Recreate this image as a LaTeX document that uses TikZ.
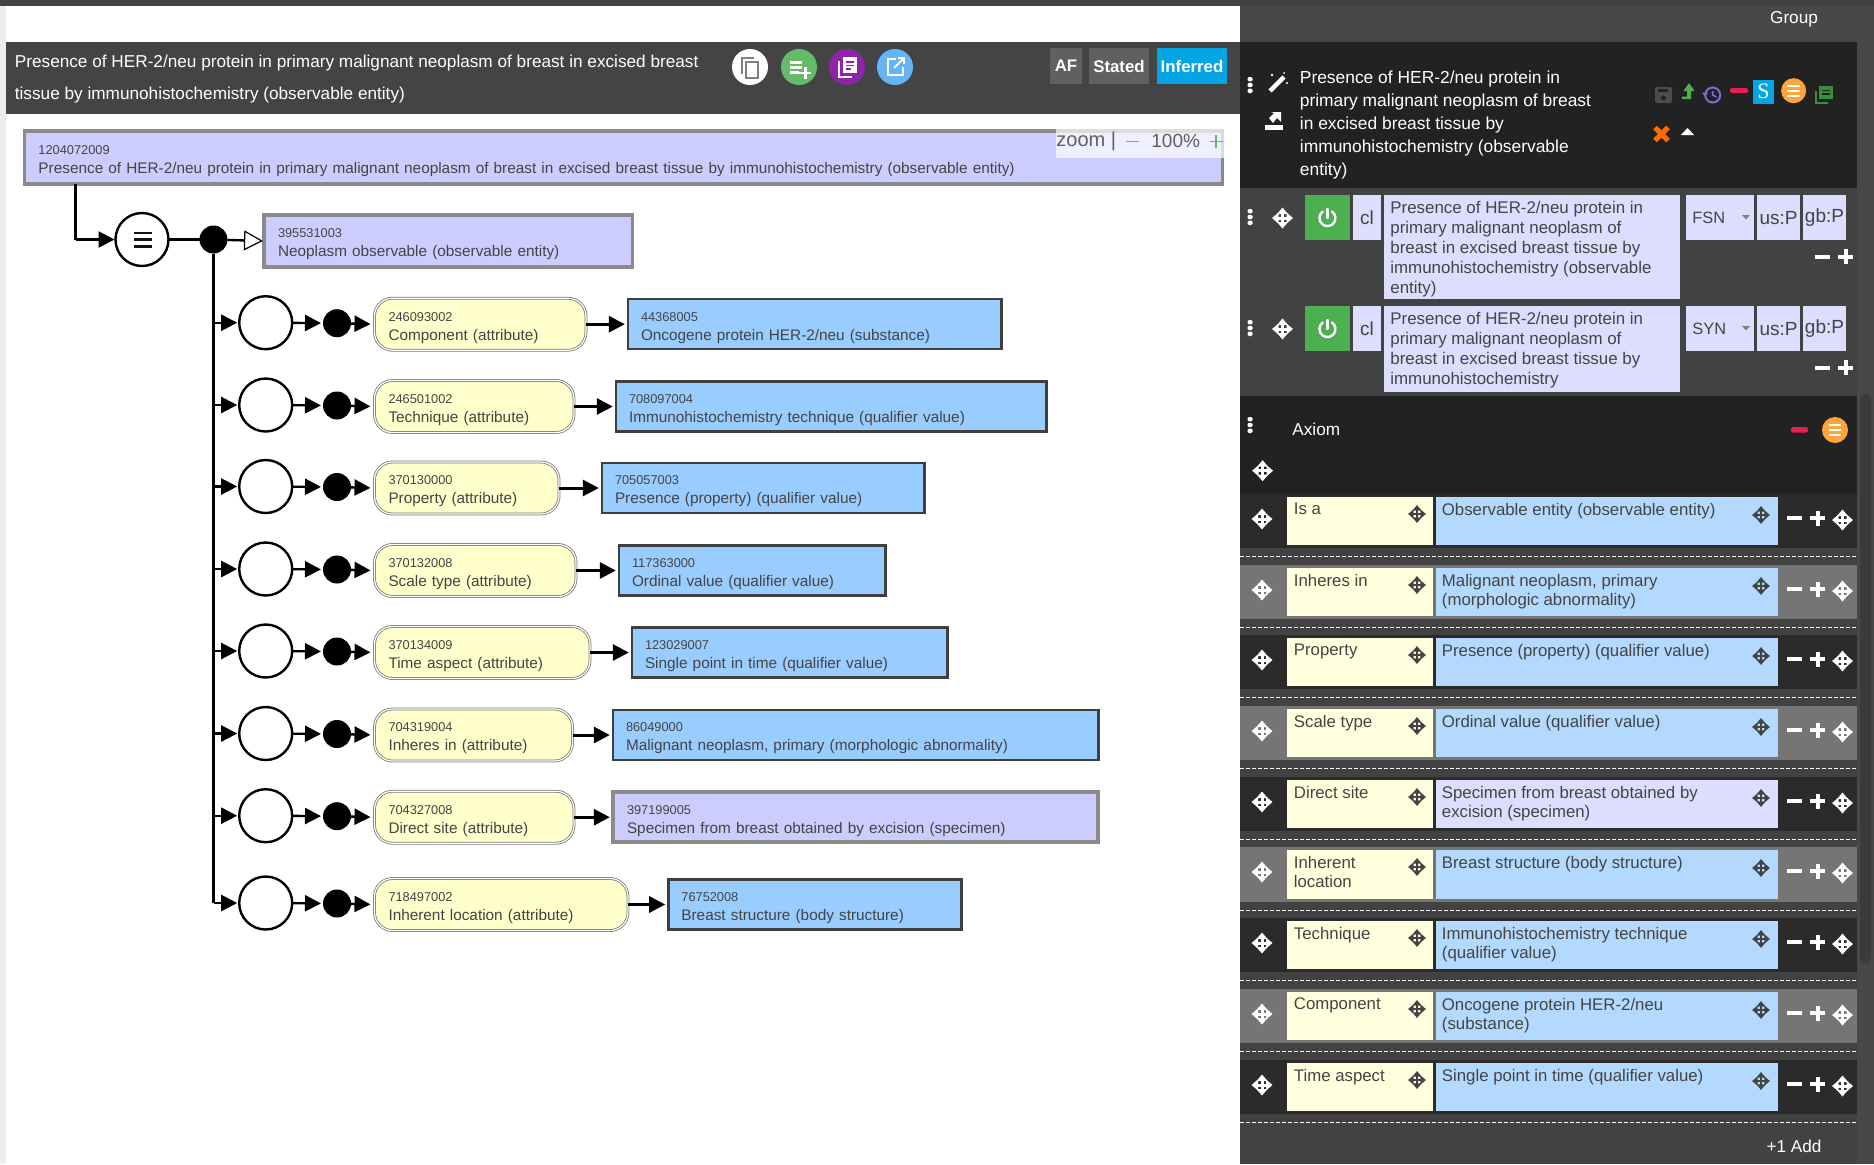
\documentclass[tikz,border=0pt]{standalone}
\usepackage{fontspec}
\setmainfont{Liberation Sans}
\newfontfamily\serifmark{Liberation Serif}
\usepackage{xcolor}
\usetikzlibrary{arrows.meta}

\definecolor{barbg}{HTML}{444444}
\definecolor{panelbg}{HTML}{424242}
\definecolor{darkbg}{HTML}{222222}
\definecolor{bandodd}{HTML}{2B2B2B}
\definecolor{bandeven}{HTML}{757575}
\definecolor{boxgray}{HTML}{8A8A8A}
\definecolor{boxdark}{HTML}{3F3F3F}
\definecolor{primfill}{HTML}{CCCCFF}
\definecolor{defnfill}{HTML}{99CCFF}
\definecolor{attrfill}{HTML}{FFFFCC}
\definecolor{inktext}{HTML}{444444}
\definecolor{lilac}{HTML}{DDDDFF}
\definecolor{sky}{HTML}{B3D9FF}
\definecolor{cream}{HTML}{FFFFDD}
\definecolor{okgreen}{HTML}{4CAF50}
\definecolor{sblue}{HTML}{03A5E4}
\definecolor{redbar}{HTML}{E91E50}
\definecolor{amber}{HTML}{FFA33A}
\definecolor{btngreen}{HTML}{66BB6A}
\definecolor{btnpurple}{HTML}{8E24AA}
\definecolor{btnblue}{HTML}{64B5F6}
\definecolor{histpurple}{HTML}{7E6BD0}
\definecolor{docgreen}{HTML}{388E3C}

\newcommand{\idline}[1]{{\fontsize{6.4}{9.5}\selectfont\rule{0pt}{8pt}#1}}

\tikzset{
	conline/.style={black,line width=1.2pt},
	conarrow/.style={conline,-{Triangle[length=8pt,width=8pt]}},
	boxbase/.style={anchor=west,align=left,inner xsep=6.5pt,inner ysep=0pt,outer sep=0pt,
		text=inktext,font=\fontsize{7.67}{9.5}\selectfont},
	primbox/.style={boxbase,draw=boxgray,line width=1.8pt,fill=primfill,inner xsep=7pt},
	defnbox/.style={boxbase,draw=boxdark,line width=1.25pt,fill=defnfill},
	attrpill/.style={boxbase,draw=boxdark!70,line width=.4pt,double=white,double distance=.6pt,
		fill=attrfill,rounded corners=9pt,inner xsep=7pt},
	ring/.style={circle,draw=black,line width=1.2pt,fill=white,minimum size=26.5pt,inner sep=0pt,outer sep=0pt},
	blackdot/.style={circle,fill=black,minimum size=14pt,inner sep=0pt,outer sep=0pt},
	paneltext/.style={anchor=north west,align=left,inner sep=0pt,text=white,font=\fontsize{8.7}{11.5}\selectfont},
	desctext/.style={anchor=north west,align=left,inner sep=0pt,text=inktext,font=\fontsize{8.45}{10}\selectfont},
	axiomtext/.style={anchor=north west,align=left,inner sep=0pt,text=inktext,font=\fontsize{8.4}{9.8}\selectfont},
	pics/moveicon/.style={code={
		\fill[#1] (0,-10.5) -- (5.5,-4) -- (-5.5,-4) -- cycle;
		\fill[#1] (0,10.5) -- (5.5,4) -- (-5.5,4) -- cycle;
		\fill[#1] (-10.5,0) -- (-4,5.5) -- (-4,-5.5) -- cycle;
		\fill[#1] (10.5,0) -- (4,5.5) -- (4,-5.5) -- cycle;
		\fill[#1] (-1.5,-5) rectangle (1.5,5);
		\fill[#1] (-5,-1.5) rectangle (5,1.5);
	}},
	pics/kebab/.style={code={
		\fill[white,rounded corners=.7pt] (-2.5,-8) rectangle (2.5,-3.6);
		\fill[white,rounded corners=.7pt] (-2.5,-2.2) rectangle (2.5,2.2);
		\fill[white,rounded corners=.7pt] (-2.5,3.6) rectangle (2.5,8);
	}},
	pics/minusplus/.style={code={
		\fill[white] (-7.5,-2) rectangle (7.5,2);
		\fill[white] (15.5,-2) rectangle (30.5,2);
		\fill[white] (21,-7.5) rectangle (25,7.5);
	}},
	pics/powericon/.style={code={
		\draw[white,line width=1.2pt,line cap=round] (4.5,-6.5) arc[start angle=-55,end angle=235,radius=8];
		\draw[white,line width=1.2pt,line cap=round] (0,-9) -- (0,0);
	}},
}

\begin{document}
\begin{tikzpicture}[x=0.5pt,y=-0.5pt]
	\useasboundingbox (0,0) rectangle (1874,1164);
	\fill[white] (0,0) rectangle (1874,1164);
	\fill[gray!15] (0,0) rectangle (6,1164);
	\fill[barbg] (0,0) rectangle (1240,6);
	
	% title bar
	\fill[barbg] (6,42) rectangle (1240,114);
	\node[anchor=north west,align=left,inner sep=0pt,text=white,font=\fontsize{8.6}{16}\selectfont] (title) at (14.5,55) {Presence of HER-2/neu protein in primary malignant neoplasm of breast in excised breast\\tissue by immunohistochemistry (observable entity)};
	
	\fill[white] (750,67) circle (18);
	\draw[gray,line width=.8pt] (742,74) -- (742,58) -- (754,58);
	\draw[gray,line width=.9pt,fill=white] (746,62) rectangle (758,78);
	\fill[btngreen] (799,67) circle (18);
	\fill[white] (790,61) rectangle (802,63.5);
	\fill[white] (790,66) rectangle (802,68.5);
	\fill[white] (790,71) rectangle (799,73.5);
	\fill[white] (804,67) rectangle (806.5,79);
	\fill[white] (799,71.5) rectangle (811,74);
	\fill[btnpurple] (847,67) circle (18);
	\draw[white,line width=.8pt] (839,61) -- (839,77) -- (852,77);
	\fill[white] (843,57) rectangle (857,73);
	\fill[btnpurple] (846,61) rectangle (854,62.5);
	\fill[btnpurple] (846,64.5) rectangle (854,66);
	\fill[btnpurple] (846,68) rectangle (851,69.5);
	\fill[btnblue] (895,67) circle (18);
	\draw[white,line width=.9pt] (896,59) -- (888,59) -- (888,75) -- (903,75) -- (903,67);
	\draw[white,line width=.9pt] (894,68) -- (904,58);
	\draw[white,line width=.9pt] (898,58) -- (904,58) -- (904,64);
	
	\fill[gray!75!black] (1050,48) rectangle (1082,84);
	\node[text=white,font=\fontsize{8.4}{10}\selectfont\bfseries] (afbtn) at (1066,66) {AF};
	\fill[gray!75!black] (1089,48) rectangle (1149,84);
	\node[text=white,font=\fontsize{8.4}{10}\selectfont\bfseries] (statedbtn) at (1119,66) {Stated};
	\fill[sblue] (1157,48) rectangle (1227,84);
	\node[text=white,font=\fontsize{8.4}{10}\selectfont\bfseries] (inferredbtn) at (1192,66) {Inferred};
	
	% diagram
	\node[primbox,text width=585pt,minimum height=26.5pt] (topbox) at (24.5,157.5) {\idline{1204072009}\\Presence of HER-2/neu protein in primary malignant neoplasm of breast in excised breast tissue by immunohistochemistry (observable entity)};
	\fill[white,opacity=.7] (1056,129) rectangle (1224,158);
	\node[anchor=west,inner sep=0pt,text=inktext!85!white,font=\fontsize{10}{12}\selectfont] (zoomlabel) at (1056,141.5) {zoom |};
	\fill[btngreen] (1126,140.5) rectangle (1139,142);
	\node[anchor=west,inner sep=0pt,text=inktext!85!white,font=\fontsize{9.5}{12}\selectfont] (zoomvalue) at (1151,140.5) {100\%};
	\fill[btngreen] (1209.5,140.5) rectangle (1222.5,142);
	\fill[btngreen] (1215.3,134.5) rectangle (1216.8,148);
	
	\coordinate (corner) at (75.5,239.5);
	\node[ring] (eqring) at (142,239.5) {};
	\fill[inktext!30!black] (133.5,231.5) rectangle (152,234);
	\fill[inktext!30!black] (133.5,238.3) rectangle (152,240.8);
	\fill[inktext!30!black] (133.5,245) rectangle (152,247.5);
	\node[blackdot] (eqdot) at (213.5,239.5) {};
	\node[primbox,text width=170.3pt,minimum height=26pt] (isabox) at (264,241) {\idline{395531003}\\Neoplasm observable (observable entity)};
	
	\draw[conline] (corner |- topbox.south) -- (corner);
	\draw[conarrow,shorten >=.5pt] (corner) -- (eqring);
	\draw[conline] (eqring) -- (eqdot);
	\draw[conline,-{Triangle[open,length=9.5pt,width=10pt,line width=.6pt]},shorten >=.5pt] (eqdot) -- (isabox.west);
	
	\foreach \rowy/\pillend/\boxstart/\boxend/\attrid/\attrname/\valid/\valname/\valstyle [count=\n] in {
		322.7/586/627/1003/246093002/Component (attribute)/44368005/{Oncogene protein HER-2/neu (substance)}/defnbox,
		405/574/615/1048/246501002/Technique (attribute)/708097004/Immunohistochemistry technique (qualifier value)/defnbox,
		486.5/559/601/926/370130000/Property (attribute)/705057003/Presence (property) (qualifier value)/defnbox,
		569/576/618/887/370132008/Scale type (attribute)/117363000/Ordinal value (qualifier value)/defnbox,
		651/590/631/949/370134009/Time aspect (attribute)/123029007/Single point in time (qualifier value)/defnbox,
		733.5/572.5/612/1100/704319004/Inheres in (attribute)/86049000/{Malignant neoplasm, primary (morphologic abnormality)}/defnbox,
		815.7/574/612/1097.6/704327008/Direct site (attribute)/397199005/Specimen from breast obtained by excision (specimen)/primbox,
		903/628/667.4/963/718497002/Inherent location (attribute)/76752008/Breast structure (body structure)/defnbox}
	{
		\pgfmathsetmacro{\pillw}{(\pillend-374.5)/2-14}
		\pgfmathsetmacro{\boxw}{(\boxend-\boxstart)/2-14.2}
		\coordinate (stem\n) at (213.5,\rowy);
		\node[ring] (ring\n) at (265.7,\rowy) {};
		\node[blackdot] (dot\n) at (337,\rowy+.5) {};
		\node[attrpill,text width=\pillw pt,minimum height=26pt] (attr\n) at (374.5,\rowy+1.5) {\idline{\attrid}\\\attrname};
		\node[\valstyle,text width=\boxw pt,minimum height=25pt] (val\n) at (\boxstart+1,\rowy+1.5) {\idline{\valid}\\\valname};
		\draw[conarrow,shorten >=1pt] (stem\n) -- (ring\n);
		\draw[conarrow,shorten >=1pt] (ring\n) -- (dot\n);
		\draw[conarrow,shorten >=2pt] (dot\n) -- (attr\n.west);
		\draw[conarrow,shorten >=1.6pt,line width=1.5pt] (attr\n.east) -- (val\n.west);
	}
	\draw[conline] (eqdot) -- (stem8);
	\fill[white] (370,932) rectangle (632,937);
	
	% right panel
	\fill[panelbg] (1240,0) rectangle (1874,1164);
	\fill[panelbg!97!white] (1240,6) rectangle (1857,42);
	\fill[panelbg!97!white] (1857,6) rectangle (1874,1164);
	\fill[panelbg!90!black,rounded corners=3pt] (1860,394) rectangle (1871,964);
	\node[text=white,font=\fontsize{8.6}{10}\selectfont] (grouplabel) at (1794,19) {Group};
	
	\fill[darkbg] (1240,42) rectangle (1857,188);
	\pic at (1250,85) {kebab};
	\draw[white,line width=2.2pt] (1270,91) -- (1284,77);
	\fill[white] (1272,75) circle (1.3) (1287,83) circle (1.2) (1284,73) circle (1);
	\fill[white] (1265,125) rectangle (1283,130);
	\fill[white] (1269,118) -- (1274,113) -- (1271,112) -- (1281,112) -- (1281,122) -- (1277,118) -- (1273,123) -- cycle;
	\node[paneltext] (conceptname) at (1299.5,70) {Presence of HER-2/neu protein in\\primary malignant neoplasm of breast\\in excised breast tissue by\\immunohistochemistry (observable\\entity)};
	\fill[gray!60!black,rounded corners=1pt] (1655,87) rectangle (1672,103);
	\fill[darkbg] (1663.5,98) circle (2.5);
	\fill[darkbg] (1658,89) rectangle (1668,92);
	\fill[okgreen] (1689,83) -- (1694.5,91) -- (1691,91) -- (1691,99) -- (1682,99) -- (1682,96.5) -- (1687,96.5) -- (1687,91) -- (1683.5,91) -- cycle;
	\draw[histpurple,line width=1pt] (1712.7,95) circle (7.5);
	\draw[histpurple,line width=.8pt] (1712.7,91) -- (1712.7,95) -- (1716.5,97);
	\fill[histpurple] (1702,92.5) -- (1708,92.5) -- (1705,97) -- cycle;
	\fill[redbar,rounded corners=1pt] (1730,88) rectangle (1748,93);
	\fill[sblue] (1753,80) rectangle (1774,103.7);
	\node[text=white,font=\fontsize{11}{12}\selectfont\serifmark] (slabel) at (1763.5,91.5) {S};
	\fill[amber] (1793.6,90.7) circle (12.5);
	\foreach \ly in {85,90,95} \fill[white] (1787,\ly) rectangle (1800,\ly+2);
	\draw[docgreen,line width=.8pt] (1816,91) -- (1816,103) -- (1828,103);
	\fill[docgreen] (1819,86) rectangle (1833,99);
	\fill[darkbg] (1821.5,89.5) rectangle (1830,91);
	\fill[darkbg] (1821.5,93) rectangle (1830,94.5);
	\draw[orange!85!red,line width=2.6pt] (1655,127.5) -- (1668,140.5);
	\draw[orange!85!red,line width=2.6pt] (1668,127.5) -- (1655,140.5);
	\fill[white] (1687.5,128) -- (1694,135) -- (1681,135) -- cycle;
	
	% description rows
	\foreach \descy/\descb/\signy/\kind/\desctxt [count=\n] in {
		195/299/256.7/FSN/{Presence of HER-2/neu protein in\\primary malignant neoplasm of\\breast in excised breast tissue by\\immunohistochemistry (observable\\entity)},
		306/391.7/367.7/SYN/{Presence of HER-2/neu protein in\\primary malignant neoplasm of\\breast in excised breast tissue by\\immunohistochemistry}}
	{
		\pic at (1250,\descy+22) {kebab};
		\pic at (1282.5,\descy+23) {moveicon=white};
		\fill[okgreen] (1305,\descy) rectangle (1350,\descy+45);
		\pic at (1327.5,\descy+23) {powericon};
		\fill[lilac] (1353,\descy) rectangle (1381,\descy+45);
		\node[text=inktext,font=\fontsize{9.5}{11}\selectfont] (case\n) at (1367,\descy+23) {cl};
		\fill[lilac] (1384,\descy) rectangle (1680,\descb);
		\node[desctext] (desc\n) at (1390,\descy+6) {\desctxt};
		\fill[lilac] (1686,\descy) rectangle (1754,\descy+45);
		\node[anchor=west,inner sep=0pt,text=inktext,font=\fontsize{8.2}{10}\selectfont] (kind\n) at (1692,\descy+22.5) {\kind};
		\fill[gray] (1742,\descy+20) -- (1750,\descy+20) -- (1746,\descy+24.5) -- cycle;
		\fill[lilac] (1757,\descy) rectangle (1800,\descy+45);
		\node[text=inktext,font=\fontsize{9.5}{11}\selectfont] (us\n) at (1778.5,\descy+23) {us:P};
		\fill[lilac] (1803,\descy) rectangle (1846,\descy+45);
		\node[text=inktext,font=\fontsize{9.5}{11}\selectfont] (gb\n) at (1824.5,\descy+23) {gb:P};
		\pic at (1822.5,\signy) {minusplus};
	}
	
	% axiom
	\fill[darkbg] (1240,396) rectangle (1857,494);
	\pic at (1250,425) {kebab};
	\node[anchor=west,inner sep=0pt,text=white,font=\fontsize{8.6}{10}\selectfont] (axiomlabel) at (1292,429) {Axiom};
	\fill[redbar,rounded corners=1pt] (1791,427) rectangle (1808,432.5);
	\fill[amber] (1835,430) circle (13);
	\foreach \ly in {424,429,434} \fill[white] (1829,\ly) rectangle (1841,\ly+2);
	\pic at (1262.6,470.7) {moveicon=white};
	
	\foreach \bandy/\bandh/\bandcol/\boxcol/\attrtxt/\valtxt [count=\n] in {
		494/54/bandodd/sky/Is a/Observable entity (observable entity),
		565/54/bandeven/sky/Inheres in/{Malignant neoplasm, primary\\(morphologic abnormality)},
		635/54/bandodd/sky/Property/Presence (property) (qualifier value),
		706/54/bandeven/sky/Scale type/Ordinal value (qualifier value),
		777/54/bandodd/lilac/Direct site/{Specimen from breast obtained by\\excision (specimen)},
		847/55/bandeven/sky/{Inherent\\location}/Breast structure (body structure),
		918/54/bandodd/sky/Technique/{Immunohistochemistry technique\\(qualifier value)},
		989/54/bandeven/sky/Component/{Oncogene protein HER-2/neu\\(substance)},
		1060/54/bandodd/sky/Time aspect/Single point in time (qualifier value)}
	{
		\fill[\bandcol] (1240,\bandy) rectangle (1857,\bandy+\bandh);
		\fill[cream] (1287,\bandy+3) rectangle (1433,\bandy+\bandh-3);
		\fill[\boxcol] (1436,\bandy+3) rectangle (1778,\bandy+\bandh-3);
		\node[axiomtext] (rolename\n) at (1293.5,\bandy+8.5) {\attrtxt};
		\node[axiomtext] (rolevalue\n) at (1441.5,\bandy+8.5) {\valtxt};
		\pic at (1262,\bandy+25) {moveicon=white};
		\pic[scale=.85] at (1417,\bandy+20) {moveicon=inktext};
		\pic[scale=.85] at (1761,\bandy+21) {moveicon=inktext};
		\pic at (1794.5,\bandy+24) {minusplus};
		\pic at (1842.5,\bandy+26) {moveicon=white};
		\draw[white,line width=.35pt,dash pattern=on 2pt off 1pt] (1240,\bandy+\bandh+8) -- (1857,\bandy+\bandh+8);
	}
	\node[text=white,font=\fontsize{8.6}{10}\selectfont] (addlabel) at (1794,1146.7) {+1 Add};
\end{tikzpicture}
\end{document}
